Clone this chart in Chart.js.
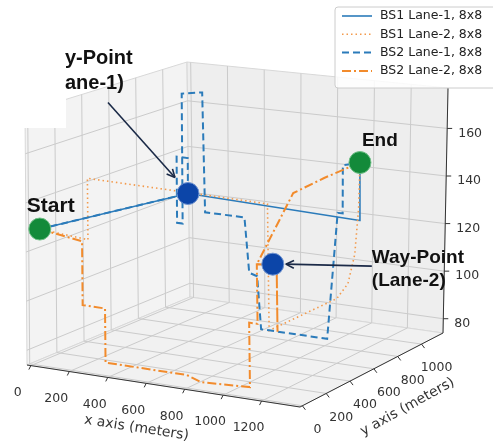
<!DOCTYPE html>
<html>
<head>
<meta charset="utf-8">
<script src="https://cdn.jsdelivr.net/npm/chart.js@4.4.0/dist/chart.umd.min.js"></script>
<style>
  html, body { margin: 0; padding: 0; background: #fff; }
  #wrap { width: 493px; height: 447px; }
</style>
</head>
<body>
<div id="wrap"><canvas id="myChart" width="493" height="447"></canvas></div>
<script>
'use strict';
// axis ranges (meters) and tick values
const xRange = [-20, 1400];
const yRange = [-20, 1180];
const zRange = [74, 177];
const xTicks = [0, 200, 400, 600, 800, 1000, 1200];
const yTicks = [0, 200, 400, 600, 800, 1000];
const zTicks = [80, 100, 120, 140, 160];

const seriesNames = ['BS1 Lane-1, 8x8', 'BS1 Lane-2, 8x8', 'BS2 Lane-1, 8x8', 'BS2 Lane-2, 8x8'];

// trajectories as [x, y, z]
const bs1Lane1 = [[10, 40, 128.5], [300, 740, 132], [1228, 740, 130], [1228, 740, 154]];
const bs1Lane2 = [[10, 40, 128.5], [262, 40, 127], [262, 40, 152], [1206, 40, 152], [1206, 40, 101],
  [1206, 590, 101], [1206, 680, 105], [1212, 725, 116], [1222, 740, 135], [1228, 740, 154]];
const bs2Lane1 = [[10, 40, 128.5], [300, 740, 132], [300, 740, 147], [240, 740, 147], [240, 740, 119],
  [270, 740, 119], [270, 740, 174], [380, 740, 175.5], [392, 740, 125], [605, 740, 125], [630, 740, 102],
  [673, 740, 101], [694, 740, 79], [1054, 740, 79], [1109, 740, 132], [1136, 740, 132], [1136, 740, 152],
  [1228, 740, 154]];
const bs2Lane2 = [[10, 40, 128.5], [231, 40, 126], [231, 40, 100], [348, 40, 100], [348, 40, 78],
  [772, 40, 78], [845, 40, 76], [1102, 40, 77], [1102, 40, 103], [1146, 40, 103], [1146, 40, 127],
  [1250, 40, 128], [1250, 40, 101], [1250, 40, 128], [1146, 40, 127],
  [1159, 314, 150], [1185, 520, 152], [1228, 740, 154]];

const startPoint = [10, 40, 128.5];
const endPoint = [1228, 740, 154];
const wayPoint1 = [300, 740, 132];
const wayPoint2 = [1230, 40, 128];

// view: where the 8 corners of the 3D box land on the canvas
const view = {
  c000: [27, 365], c100: [300, 407], c010: [190, 297], c110: [443, 333],
  c001: [25, 112], c101: [296, 150], c011: [187, 62], c111: [448, 88]
};

function project(p) {
  const u = (p[0] - xRange[0]) / (xRange[1] - xRange[0]);
  const v = (p[1] - yRange[0]) / (yRange[1] - yRange[0]);
  const w = (p[2] - zRange[0]) / (zRange[1] - zRange[0]);
  const out = [0, 0];
  for (let k = 0; k < 2; k++) {
    const b = (1 - u) * (1 - v) * view.c000[k] + u * (1 - v) * view.c100[k] + (1 - u) * v * view.c010[k] + u * v * view.c110[k];
    const t = (1 - u) * (1 - v) * view.c001[k] + u * (1 - v) * view.c101[k] + (1 - u) * v * view.c011[k] + u * v * view.c111[k];
    out[k] = b + (t - b) * w;
  }
  return { x: out[0], y: out[1] };
}

function toPx(chart, p) {
  const q = project(p);
  return { x: chart.scales.x.getPixelForValue(q.x), y: chart.scales.y.getPixelForValue(q.y) };
}

function seg(ctx, a, b) {
  ctx.beginPath();
  ctx.moveTo(a.x, a.y);
  ctx.lineTo(b.x, b.y);
  ctx.stroke();
}

function fillPoly(ctx, pts, color) {
  ctx.beginPath();
  pts.forEach((p, i) => i ? ctx.lineTo(p.x, p.y) : ctx.moveTo(p.x, p.y));
  ctx.closePath();
  ctx.fillStyle = color;
  ctx.fill();
  ctx.strokeStyle = '#d8d8d8';
  ctx.lineWidth = 1;
  ctx.stroke();
}

function arrow(ctx, from, to) {
  ctx.strokeStyle = '#1b2a47';
  ctx.lineWidth = 1.6;
  seg(ctx, from, to);
  const ang = Math.atan2(to.y - from.y, to.x - from.x);
  const len = 9;
  [-0.45, 0.45].forEach(d => {
    seg(ctx, to, { x: to.x - len * Math.cos(ang + d), y: to.y - len * Math.sin(ang + d) });
  });
}

const axesPlugin = {
  id: 'axes3d',
  beforeDatasetsDraw(chart) {
    const ctx = chart.ctx;
    const P = (x, y, z) => toPx(chart, [x, y, z]);
    const [x0, x1] = xRange, [y0, y1] = yRange, [z0, z1] = zRange;
    ctx.save();
    // panes
    fillPoly(ctx, [P(x0, y0, z0), P(x0, y1, z0), P(x0, y1, z1), P(x0, y0, z1)], '#f3f3f3');
    fillPoly(ctx, [P(x0, y1, z0), P(x1, y1, z0), P(x1, y1, z1), P(x0, y1, z1)], '#eeeeee');
    fillPoly(ctx, [P(x0, y0, z0), P(x1, y0, z0), P(x1, y1, z0), P(x0, y1, z0)], '#f1f1f1');

    // grid
    ctx.strokeStyle = '#cbcbcb';
    ctx.lineWidth = 1;
    xTicks.forEach(x => { seg(ctx, P(x, y0, z0), P(x, y1, z0)); seg(ctx, P(x, y1, z0), P(x, y1, z1)); });
    yTicks.forEach(y => { seg(ctx, P(x0, y, z0), P(x1, y, z0)); seg(ctx, P(x0, y, z0), P(x0, y, z1)); });
    zTicks.forEach(z => { seg(ctx, P(x0, y0, z), P(x0, y1, z)); seg(ctx, P(x0, y1, z), P(x1, y1, z)); });

    // cropped corner of the original figure
    ctx.fillStyle = '#ffffff';
    ctx.fillRect(0, 0, 66, 128);

    // axis lines
    ctx.strokeStyle = '#333';
    ctx.lineWidth = 1;
    seg(ctx, P(x0, y0, z0), P(x1, y0, z0));
    seg(ctx, P(x1, y0, z0), P(x1, y1, z0));
    seg(ctx, P(x1, y1, z0), P(x1, y1, z1));

    // ticks and tick labels
    ctx.font = '12.5px "DejaVu Sans"';
    ctx.fillStyle = '#333';
    ctx.textAlign = 'center';
    ctx.textBaseline = 'middle';
    xTicks.forEach(x => {
      const p = P(x, y0, z0);
      seg(ctx, p, { x: p.x - 2, y: p.y + 4 });
      ctx.fillText(String(x), p.x - 13, p.y + 27);
    });
    yTicks.forEach(y => {
      const p = P(x1, y, z0);
      seg(ctx, p, { x: p.x + 3, y: p.y + 4 });
      ctx.fillText(String(y), p.x + 15, p.y + 24);
    });
    ctx.textAlign = 'left';
    zTicks.forEach(z => {
      const p = P(x1, y1, z);
      seg(ctx, p, { x: p.x + 5, y: p.y });
      ctx.fillText(String(z), p.x + 11, p.y + 5);
    });

    // axis titles
    ctx.font = '14px "DejaVu Sans"';
    ctx.textAlign = 'center';
    const xa = P(x0, y0, z0), xb = P(x1, y0, z0);
    ctx.save();
    ctx.translate((xa.x + xb.x) / 2 - 27, (xa.y + xb.y) / 2 + 42);
    ctx.rotate(Math.atan2(xb.y - xa.y, xb.x - xa.x));
    ctx.fillText('x axis (meters)', 0, 0);
    ctx.restore();
    const ya = P(x1, y0, z0), yb = P(x1, y1, z0);
    ctx.save();
    ctx.translate((ya.x + yb.x) / 2 + 36, (ya.y + yb.y) / 2 + 37);
    ctx.rotate(Math.atan2(yb.y - ya.y, yb.x - ya.x) - 0.03);
    ctx.fillText('y axis (meters)', 0, 0);
    ctx.restore();
    ctx.restore();
  },
  afterDatasetsDraw(chart) {
    const ctx = chart.ctx;
    ctx.save();
    const s = toPx(chart, startPoint), e = toPx(chart, endPoint);
    const w1 = toPx(chart, wayPoint1), w2 = toPx(chart, wayPoint2);

    // annotation arrows
    arrow(ctx, { x: w1.x - 80, y: w1.y - 91 }, { x: w1.x - 13, y: w1.y - 16 });
    arrow(ctx, { x: w2.x + 99, y: w2.y + 2 }, { x: w2.x + 13, y: w2.y });

    // annotation texts
    ctx.fillStyle = '#111';
    ctx.textAlign = 'left';
    ctx.textBaseline = 'alphabetic';
    ctx.font = 'bold 21px "Liberation Sans"';
    ctx.fillText('Start', s.x - 13, s.y - 17);
    ctx.font = 'bold 19px "Liberation Sans"';
    ctx.fillText('End', e.x + 2, e.y - 17);
    ctx.font = 'bold 20px "Liberation Sans"';
    ctx.fillText('y-Point', w1.x - 123, w1.y - 130);
    ctx.fillText('ane-1)', w1.x - 123, w1.y - 105);
    ctx.font = 'bold 19px "Liberation Sans"';
    ctx.fillText('Way-Point', w2.x + 99, w2.y - 1);
    ctx.fillText('(Lane-2)', w2.x + 99, w2.y + 22);

    // legend
    const lx = 335, ly = 7;
    ctx.beginPath();
    ctx.roundRect(lx, ly, 170, 81, 3);
    ctx.fillStyle = 'rgba(255,255,255,0.85)';
    ctx.fill();
    ctx.strokeStyle = '#cccccc';
    ctx.lineWidth = 1;
    ctx.stroke();
    ctx.font = '12.5px "DejaVu Sans"';
    ctx.textBaseline = 'middle';
    chart.data.datasets.filter(d => d.inLegend).forEach((d, i) => {
      const yy = ly + 9 + i * 18.3;
      ctx.strokeStyle = d.borderColor;
      ctx.lineWidth = d.borderWidth;
      ctx.setLineDash(d.borderDash);
      seg(ctx, { x: lx + 7, y: yy }, { x: lx + 37, y: yy });
      ctx.setLineDash([]);
      ctx.fillStyle = '#222';
      ctx.fillText(d.label, lx + 45, yy);
    });
    ctx.restore();
  }
};

const lineStyles = [
  { color: '#2b7bba', width: 1.6, dash: [] },
  { color: '#f39a4c', width: 1.6, dash: [1.5, 3] },
  { color: '#2b7bba', width: 2, dash: [7, 4] },
  { color: '#f28b2c', width: 2, dash: [9, 3, 2, 3] }
];
const paths = [bs1Lane1, bs1Lane2, bs2Lane1, bs2Lane2];

const datasets = paths.map((path, i) => ({
  label: seriesNames[i],
  inLegend: true,
  data: path.map(project),
  showLine: true,
  borderColor: lineStyles[i].color,
  borderWidth: lineStyles[i].width,
  borderDash: lineStyles[i].dash,
  pointRadius: 0,
  tension: 0,
  fill: false,
  clip: false,
  order: 2 + (3 - i)
}));
datasets.push({
  label: 'start-end',
  data: [startPoint, endPoint].map(project),
  showLine: false,
  pointRadius: 11,
  backgroundColor: '#138a3a',
  borderColor: '#6fbf86',
  borderWidth: 1,
  clip: false,
  order: 0
});
datasets.push({
  label: 'way-points',
  data: [wayPoint1, wayPoint2].map(project),
  showLine: false,
  pointRadius: 11,
  backgroundColor: '#0c45a8',
  borderColor: '#6f93d0',
  borderWidth: 1,
  clip: false,
  order: 0
});

const ctx = document.getElementById('myChart').getContext('2d');
const chart = new Chart(ctx, {
  type: 'scatter',
  data: { datasets: datasets },
  options: {
    responsive: false,
    animation: false,
    devicePixelRatio: 1,
    layout: { padding: 0, autoPadding: false },
    scales: {
      x: { type: 'linear', min: 0, max: 493, display: false },
      y: { type: 'linear', min: 0, max: 447, reverse: true, display: false }
    },
    plugins: { legend: { display: false }, tooltip: { enabled: false } }
  },
  plugins: [axesPlugin]
});
</script>
</body>
</html>
